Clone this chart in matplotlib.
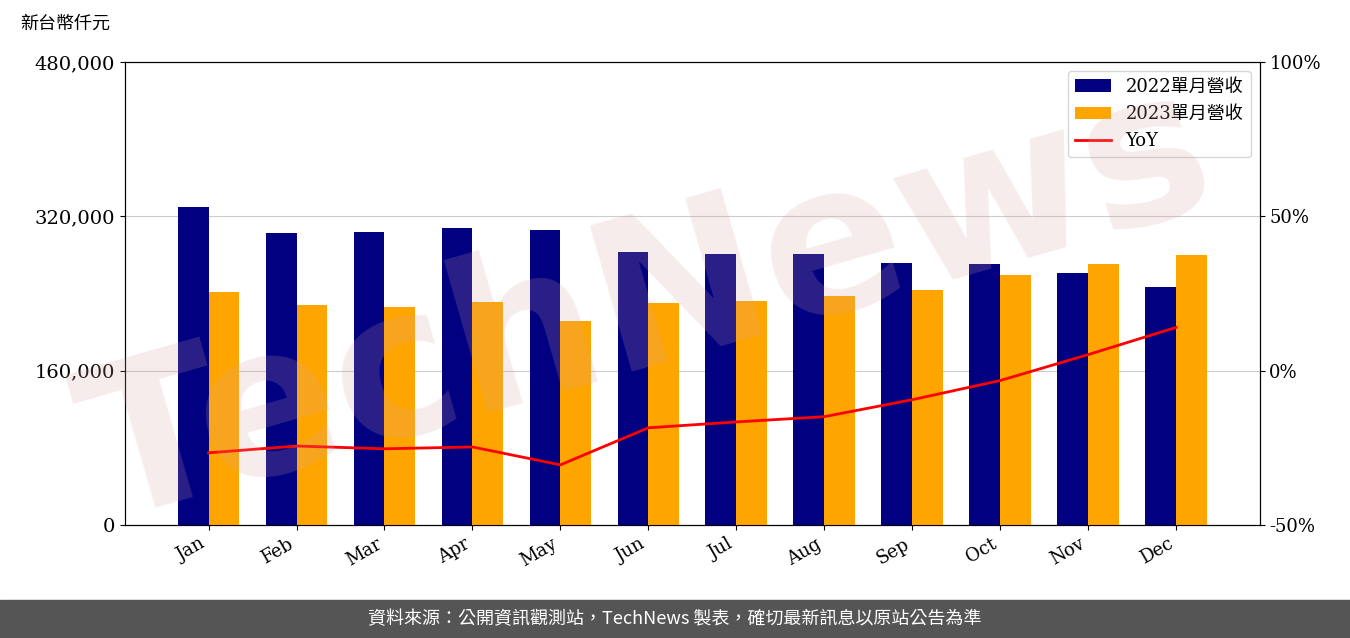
import matplotlib
matplotlib.use("Agg")
import matplotlib.pyplot as plt
import numpy as np

months = ["Jan","Feb","Mar","Apr","May","Jun","Jul","Aug","Sep","Oct","Nov","Dec"]
rev2022 = [329700,302700,303700,307900,305800,283000,281000,281000,271600,270600,261200,246700]
rev2023 = [241500,228000,226000,231200,211500,230100,232200,237400,243600,259200,270600,279900]
yoy = [-26.6,-24.4,-25.3,-24.7,-30.5,-18.5,-16.6,-14.9,-9.4,-3.2,5.2,14.0]

plt.rcParams['font.family'] = ['DejaVu Serif', 'Noto Sans CJK TC']
fig = plt.figure(figsize=(13.5,6.38), dpi=100)
ax = fig.add_axes([0.0926,0.177,0.8404,0.726])
x = np.arange(len(months))
w = 0.35
ax.bar(x-w/2, rev2022, w, color='#000080', label='2022單月營收', zorder=3)
ax.bar(x+w/2, rev2023, w, color='#FFA500', label='2023單月營收', zorder=3)
ax.set_ylim(0,480000)
ax.set_yticks([0,160000,320000,480000])
ax.set_yticklabels([f"{v:,}" for v in [0,160000,320000,480000]], fontsize=14)
ax.yaxis.grid(True, color='#cccccc', zorder=0)
ax.set_xlim(-0.95, 11.95)
ax.set_xticks(x)
ax.set_xticklabels(months, rotation=30, ha='right', fontsize=13)
ax2 = ax.twinx()
ax2.plot(x, yoy, color='red', lw=2, label='YoY')
ax2.set_ylim(-50,100)
ax2.set_yticks([-50,0,50,100])
ax2.set_yticklabels(['-50%','0%','50%','100%'], fontsize=13)
h1,l1 = ax.get_legend_handles_labels()
h2,l2 = ax2.get_legend_handles_labels()
ax2.legend(h1+h2, l1+l2, loc='upper right', fontsize=13)
fig.text(0.015, 0.955, '新台幣仟元', fontsize=13, family=['Noto Sans CJK TC'])
fig.text(0.48, 0.52, 'TechNews', fontsize=150, color='#d8a0a0', alpha=0.2, rotation=16,
         ha='center', va='center', family='DejaVu Sans', fontweight='bold', zorder=0)
fig.patches.append(plt.Rectangle((0,0),1,0.06, transform=fig.transFigure, color='#555555'))
fig.text(0.5, 0.03, '資料來源：公開資訊觀測站，TechNews 製表，確切最新訊息以原站公告為準', color='white',
         fontsize=13, ha='center', va='center', family=['Noto Sans CJK TC'])
fig.savefig('out.png')
